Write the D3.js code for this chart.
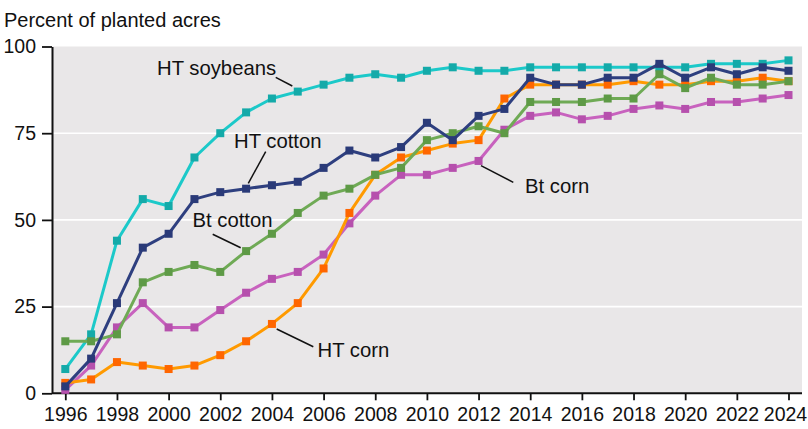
<!DOCTYPE html>
<html><head><meta charset="utf-8">
<script src="https://cdn.jsdelivr.net/npm/d3@7"></script>
<style>html,body{margin:0;padding:0;background:#fff;}svg{display:block;font-family:"Liberation Sans",Arial,sans-serif;}</style>
</head><body>
<svg id="c" width="808" height="429"></svg>
<script>
const years = d3.range(1996, 2025);
const htSoybeans = [7,17,44,56,54,68,75,81,85,87,89,91,92,91,93,94,93,93,94,94,94,94,94,94,94,95,95,95,96];
const htCotton   = [2,10,26,42,46,56,58,59,60,61,65,70,68,71,78,73,80,82,91,89,89,91,91,95,91,94,92,94,93];
const btCotton   = [15,15,17,32,35,37,35,41,46,52,57,59,63,65,73,75,77,75,84,84,84,85,85,92,88,91,89,89,90];
const btCorn     = [1,8,19,26,19,19,24,29,33,35,40,49,57,63,63,65,67,76,80,81,79,80,82,83,82,84,84,85,86];
const htCorn     = [3,4,9,8,7,8,11,15,20,26,36,52,63,68,70,72,73,85,89,89,89,89,90,89,89,90,90,91,90];
const yTicks = [0,25,50,75,100];
const xTicks = d3.range(1996, 2025, 2);

const series = [
  {name:"HT soybeans", values:htSoybeans, line:"#1cc9c9", mark:"#14aaa9"},
  {name:"Bt corn", values:btCorn, line:"#c862be", mark:"#b650ad"},
  {name:"HT corn", values:htCorn, line:"#ff9a00", mark:"#ff6600"},
  {name:"Bt cotton", values:btCotton, line:"#6faa55", mark:"#5e9a46"},
  {name:"HT cotton", values:htCotton, line:"#2e3f7f", mark:"#2a3a78"}
];

const svg = d3.select("#c");
const L = 52, R = 802, T = 46.5, B = 393.3;
const x = d3.scaleLinear().domain([1996, 2024]).range([65.3, 788.5]);
const y = d3.scaleLinear().domain([0, 100]).range([B, T]);

svg.append("rect").attr("x", L).attr("y", T).attr("width", R - L).attr("height", B - T).attr("fill", "#e9e7e8");

svg.append("g").selectAll("line").data(yTicks.filter(d => d > 0 && d < 100)).join("line")
  .attr("x1", L).attr("x2", R).attr("y1", d => y(d)).attr("y2", d => y(d))
  .attr("stroke", "#fff").attr("stroke-width", 1.6);

const yAxis = svg.append("g").attr("transform", `translate(${L},0)`)
  .call(d3.axisLeft(y).tickValues(yTicks).tickSize(10).tickPadding(6).tickSizeOuter(0));
const xAxis = svg.append("g").attr("transform", `translate(0,${B})`)
  .call(d3.axisBottom(x).tickValues(xTicks).tickFormat(d3.format("d")).tickSize(7).tickPadding(7).tickSizeOuter(0));
xAxis.select(".domain").attr("d", `M${L},0H${R}`);
[yAxis, xAxis].forEach(a => {
  a.select(".domain").attr("stroke", "#111").attr("stroke-width", 2);
  a.selectAll(".tick line").attr("stroke", "#111").attr("stroke-width", 1.8);
  a.selectAll(".tick text").attr("fill", "#111").attr("font-size", 19.5)
    .attr("font-family", '"Liberation Sans", Arial, sans-serif');
});
xAxis.selectAll(".tick text").filter(d => d === 2024).attr("dx", -3.5);

const line = d3.line().x((d, i) => x(years[i])).y(d => y(d));
const g = svg.append("g");
series.forEach(s => {
  g.append("path").attr("d", line(s.values)).attr("fill", "none")
    .attr("stroke", s.line).attr("stroke-width", 3).attr("stroke-linejoin", "round");
  g.append("g").selectAll("rect").data(s.values).join("rect")
    .attr("x", (d, i) => x(years[i]) - 4).attr("y", d => y(d) - 4)
    .attr("width", 8).attr("height", 8).attr("fill", s.mark);
});

svg.append("text").attr("x", 4).attr("y", 27).attr("font-size", 20).attr("fill", "#111")
  .text("Percent of planted acres");

const labels = [
  {t:"HT soybeans", x:157, y:75, l:[275.7,77.3,292.3,86]},
  {t:"HT cotton", x:234, y:148.3, l:[265.7,151.7,248.3,183.3]},
  {t:"Bt cotton", x:192.5, y:226.7, l:[212.7,234.3,240.7,247.7]},
  {t:"HT corn", x:317.5, y:356.7, l:[276.7,329,313.3,346.7]},
  {t:"Bt corn", x:525, y:193.3, l:[481,165.7,513.3,182.3]}
];
labels.forEach(d => {
  svg.append("line").attr("x1", d.l[0]).attr("y1", d.l[1]).attr("x2", d.l[2]).attr("y2", d.l[3])
    .attr("stroke", "#111").attr("stroke-width", 1.5);
  svg.append("text").attr("x", d.x).attr("y", d.y).attr("font-size", 20.3).attr("fill", "#111").text(d.t);
});
</script>
</body></html>
